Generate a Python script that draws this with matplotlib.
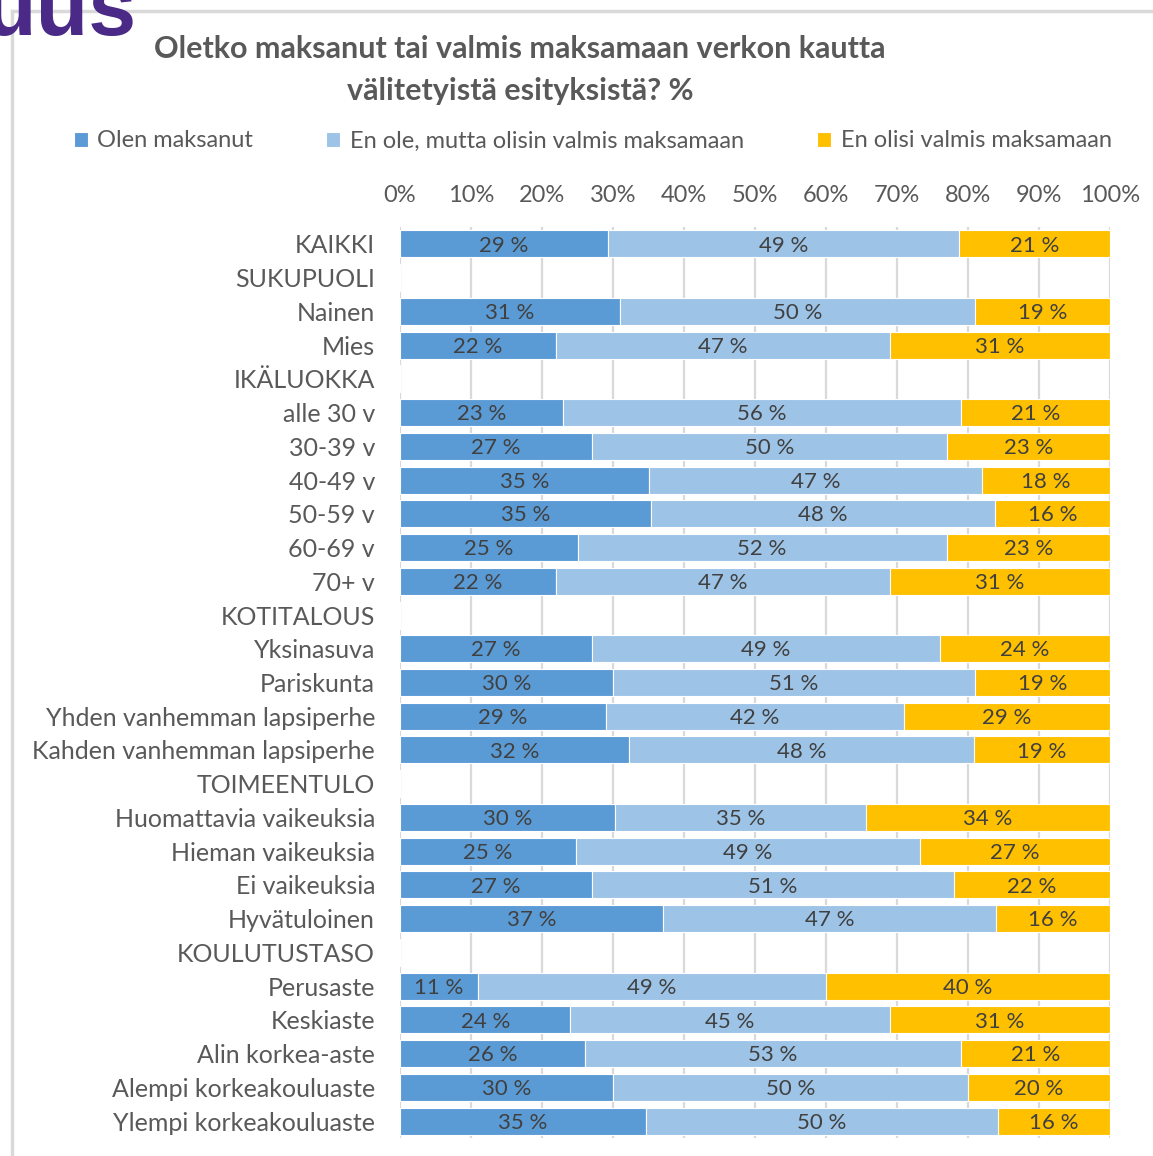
import matplotlib.pyplot as plt
import numpy as np

plt.rcParams['font.family'] = ['Lato', 'DejaVu Sans']

# rows of the chart, top to bottom (header rows have no bars)
categories = ['KAIKKI', 'SUKUPUOLI', 'Nainen', 'Mies', 'IKÄLUOKKA', 'alle 30 v', '30-39 v',
              '40-49 v', '50-59 v', '60-69 v', '70+ v', 'KOTITALOUS', 'Yksinasuva',
              'Pariskunta', 'Yhden vanhemman lapsiperhe', 'Kahden vanhemman lapsiperhe',
              'TOIMEENTULO', 'Huomattavia vaikeuksia', 'Hieman vaikeuksia', 'Ei vaikeuksia',
              'Hyvätuloinen', 'KOULUTUSTASO', 'Perusaste', 'Keskiaste', 'Alin korkea-aste',
              'Alempi korkeakouluaste', 'Ylempi korkeakouluaste']

paid = [29, None, 31, 22, None, 23, 27, 35, 35, 25, 22, None, 27, 30, 29, 32,
        None, 30, 25, 27, 37, None, 11, 24, 26, 30, 35]
willing = [49, None, 50, 47, None, 56, 50, 47, 48, 52, 47, None, 49, 51, 42, 48,
           None, 35, 49, 51, 47, None, 49, 45, 53, 50, 50]
not_willing = [21, None, 19, 31, None, 21, 23, 18, 16, 23, 31, None, 24, 19, 29, 19,
               None, 34, 27, 22, 16, None, 40, 31, 21, 20, 16]

series_names = ['Olen maksanut', 'En ole, mutta olisin valmis maksamaan', 'En olisi valmis maksamaan']
colors = ['#5B9BD5', '#9DC3E6', '#FFC000']
xticks = np.arange(0, 101, 10)

TEXT = '#595959'
LABEL = '#404040'

fig = plt.figure(figsize=(11.53, 11.56), dpi=100)
ax = fig.add_axes([400 / 1153, 1 - 1138 / 1156, 710 / 1153, 911 / 1156])

y = np.arange(len(categories))
series = [paid, willing, not_willing]
left = np.zeros(len(categories))
# Excel-style 100 % stacking: each row scaled by its own total
totals = np.array([sum(v[i] for v in series) if paid[i] is not None else 1 for i in range(len(categories))], float)

for vals, col, name in zip(series, colors, series_names):
    v = np.array([np.nan if x is None else x for x in vals], float)
    w = v / totals * 100
    ax.barh(y, np.nan_to_num(w), left=left, height=0.8, color=col, edgecolor='white',
            linewidth=0.8, label=name, zorder=2)
    for yi, (wi, li, vi) in enumerate(zip(w, left, v)):
        if not np.isnan(vi):
            ax.text(li + wi / 2, yi + 0.05, f'{int(vi)} %', ha='center', va='center',
                    fontsize=16, color=LABEL, zorder=3)
    left = left + np.nan_to_num(w)

ax.set_xlim(0, 100)
ax.set_ylim(len(categories) - 0.5, -0.5)
ax.set_xticks(xticks)
ax.set_xticklabels([f'{t}%' for t in xticks])
ax.xaxis.tick_top()
ax.set_yticks(y)
ax.set_yticklabels(categories)
ax.tick_params(axis='x', length=0, pad=15, labelsize=17, labelcolor=TEXT)
ax.tick_params(axis='y', length=0, pad=18, labelsize=18, labelcolor=TEXT)
ax.grid(axis='x', color='#D9D9D9', linewidth=1.6, zorder=0)
ax.set_axisbelow(True)
for s in ax.spines.values():
    s.set_visible(False)

fig.text(0.451, 1 - 49 / 1156, 'Oletko maksanut tai valmis maksamaan verkon kautta',
         ha='center', va='center', fontsize=22, fontweight='bold', color=TEXT)
fig.text(0.451, 1 - 91 / 1156, 'välitetyistä esityksistä? %',
         ha='center', va='center', fontsize=22, fontweight='bold', color=TEXT)

fig.legend(loc='center', bbox_to_anchor=(0.514, 1 - 141 / 1156), ncol=3, frameon=False,
           fontsize=17, handlelength=0.6, handleheight=0.6, handletextpad=0.4,
           columnspacing=3.1, labelcolor=TEXT)

# slide frame and cut-off heading behind the chart
fig.add_artist(plt.Line2D([12 / 1153, 1], [1 - 11 / 1156, 1 - 11 / 1156], color='#D9D9D9', lw=2.5))
fig.add_artist(plt.Line2D([12 / 1153, 12 / 1153], [0, 1 - 11 / 1156], color='#D9D9D9', lw=2.5))
fig.text(137 / 1153, 1 - 35 / 1156, 'uus', ha='right', va='baseline', fontsize=62,
         fontweight='bold', color='#4B2A87', family='Liberation Sans')

fig.savefig('out.png', dpi=100)
